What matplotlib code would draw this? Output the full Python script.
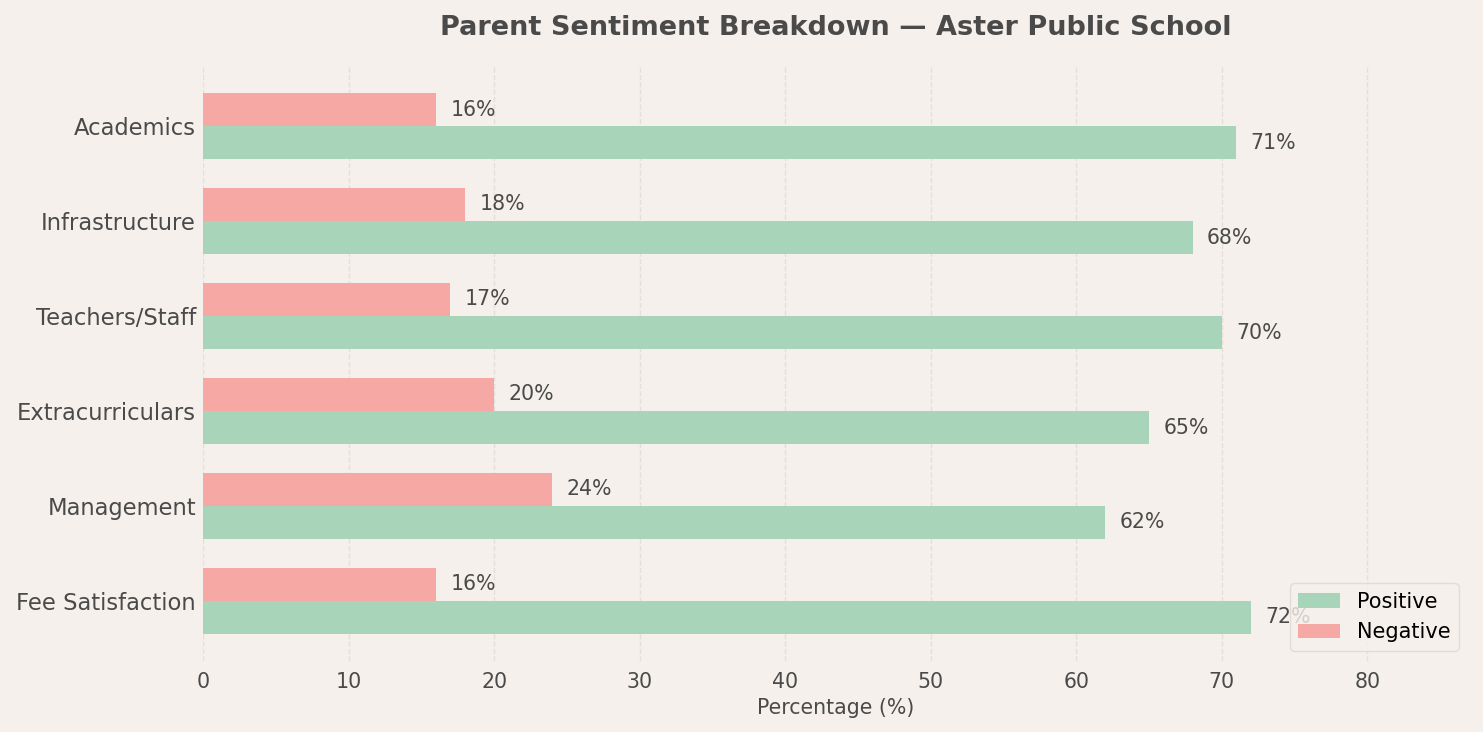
import numpy as np
import matplotlib
matplotlib.use('Agg')
from matplotlib import pyplot as plt

categorias = ['Academics', 'Infrastructure', 'Teachers/Staff', 'Extracurriculars',
              'Management', 'Fee Satisfaction']
positivo = [71, 68, 70, 65, 62, 72]
negativo = [16, 18, 17, 20, 24, 16]

fondo = '#f5f0eb'
texto = '#4a4a4a'

fig = plt.figure(figsize=(14.83, 7.32), dpi=100, facecolor=fondo)
ax = fig.add_axes([0.1369, 0.097, 0.8537, 0.813])
ax.set_facecolor(fondo)

y = np.arange(len(categorias))
h = 0.35
b1 = ax.barh(y + h/2, positivo, h, color='#a8d5ba', label='Positive')
b2 = ax.barh(y - h/2, negativo, h, color='#f5a8a4', label='Negative')

for barras in (b1, b2):
    for b in barras:
        v = b.get_width()
        ax.text(v + 1, b.get_y() + b.get_height()/2, '%d%%' % v,
                ha='left', va='center', fontsize=14.8, color=texto)

ax.set_yticks(y)
ax.set_yticklabels(categorias)
ax.invert_yaxis()
ax.set_xlim(0, 87)
ax.tick_params(axis='y', length=0, labelsize=16.3, labelcolor=texto, pad=5)
ax.tick_params(axis='x', length=0, labelsize=14.8, labelcolor=texto, pad=8)
for s in ax.spines.values():
    s.set_visible(False)
ax.grid(True, axis='x', linestyle='--', color='#d9d4cf', alpha=0.6, linewidth=1)
ax.set_axisbelow(True)
ax.set_xlabel('Percentage (%)', fontsize=14.8, color=texto)
ax.set_title('Parent Sentiment Breakdown — Aster Public School', fontsize=19.5,
             fontweight='bold', color=texto, pad=22)
leg = ax.legend(loc='lower right', fontsize=15, facecolor=fondo, edgecolor='#dcd7d2',
                framealpha=0.8)

plt.savefig('out.png', facecolor=fondo)
